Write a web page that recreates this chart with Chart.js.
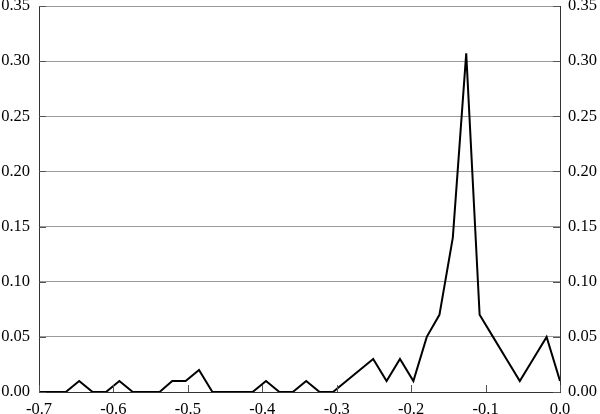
<!DOCTYPE html>
<html>
<head>
<meta charset="utf-8">
<script src="https://cdn.jsdelivr.net/npm/chart.js@4/dist/chart.umd.min.js"></script>
<style>
  html, body { margin: 0; padding: 0; background: #ffffff; }
  #wrap { width: 600px; height: 414px; position: relative; }
</style>
</head>
<body>
<div id="wrap"><canvas id="c" width="600" height="414"></canvas></div>
<script>
// ---- data ----
const xValues = [-0.700, -0.682, -0.664, -0.646, -0.628, -0.610, -0.592, -0.574, -0.556, -0.538,
                 -0.521, -0.503, -0.485, -0.467, -0.449, -0.431, -0.413, -0.395, -0.377, -0.359,
                 -0.341, -0.323, -0.305, -0.287, -0.269, -0.251, -0.233, -0.215, -0.197, -0.179,
                 -0.162, -0.144, -0.126, -0.108, -0.090, -0.072, -0.054, -0.036, -0.018, 0.000];
const shares  = [0.00, 0.00, 0.00, 0.01, 0.00, 0.00, 0.01, 0.00, 0.00, 0.00,
                 0.01, 0.01, 0.02, 0.00, 0.00, 0.00, 0.00, 0.01, 0.00, 0.00,
                 0.01, 0.00, 0.00, 0.01, 0.02, 0.03, 0.01, 0.03, 0.01, 0.05,
                 0.07, 0.14, 0.307, 0.07, 0.05, 0.03, 0.01, 0.03, 0.05, 0.01];
const xTicks = [-0.7, -0.6, -0.5, -0.4, -0.3, -0.2, -0.1, 0.0];
const xTickLabels = ["-0.7", "-0.6", "-0.5", "-0.4", "-0.3", "-0.2", "-0.1", "0.0"];
const yTicks = [0.00, 0.05, 0.10, 0.15, 0.20, 0.25, 0.30, 0.35];
const yTickLabels = ["0.00", "0.05", "0.10", "0.15", "0.20", "0.25", "0.30", "0.35"];

const FONT = { family: "'Liberation Serif', 'Times New Roman', serif", size: 16.5 };

const points = xValues.map((x, i) => ({ x: x, y: shares[i] }));

function setTicks(arr) {
  return function (scale) { scale.ticks = arr.map(v => ({ value: v })); };
}
function noPad(s) { s.paddingTop = 0; s.paddingBottom = 0; s.paddingLeft = 0; s.paddingRight = 0; }

const innerTicks = {
  id: 'innerTicks',
  afterDraw(chart) {
    const ctx = chart.ctx, a = chart.chartArea;
    const ys = chart.scales.y, xs = chart.scales.x;
    ctx.save();
    ctx.strokeStyle = '#555555';
    ctx.lineWidth = 1;
    ctx.beginPath();
    yTicks.forEach(v => {
      const py = Math.round(ys.getPixelForValue(v)) + 0.5;
      ctx.moveTo(a.left, py); ctx.lineTo(a.left + 7, py);
      ctx.moveTo(a.right - 7, py); ctx.lineTo(a.right, py);
    });
    xTicks.forEach(v => {
      const px = Math.round(xs.getPixelForValue(v)) + 0.5;
      ctx.moveTo(px, a.bottom); ctx.lineTo(px, a.bottom - 7);
    });
    ctx.stroke();
    ctx.restore();
  }
};

new Chart(document.getElementById('c'), {
  type: 'line',
  data: {
    datasets: [{
      data: points,
      borderColor: '#000000',
      borderWidth: 2,
      pointRadius: 0,
      tension: 0,
      fill: false
    }]
  },
  options: {
    responsive: false,
    animation: false,
    devicePixelRatio: 1,
    layout: { padding: { top: 6, left: 0, right: 0, bottom: 0 } },
    plugins: { legend: { display: false }, tooltip: { enabled: false } },
    scales: {
      x: {
        type: 'linear',
        min: -0.7, max: 0,
        afterBuildTicks: setTicks(xTicks),
        afterFit(s) { s.height = 22; noPad(s); },
        grid: { display: false, drawTicks: false },
        border: { display: true, color: '#333333', width: 1 },
        ticks: {
          font: FONT, color: '#000000', padding: 8, maxRotation: 0,
          callback: (v) => xTickLabels[xTicks.findIndex(t => Math.abs(t - v) < 1e-9)]
        }
      },
      y: {
        position: 'left',
        min: 0, max: 0.35,
        afterBuildTicks: setTicks(yTicks),
        afterFit(s) { s.width = 39; noPad(s); },
        grid: { display: true, color: '#9a9a9a', lineWidth: 1, drawTicks: false },
        border: { display: true, color: '#333333', width: 1 },
        ticks: {
          font: FONT, color: '#000000', padding: 9,
          callback: (v) => yTickLabels[yTicks.findIndex(t => Math.abs(t - v) < 1e-9)]
        }
      },
      y2: {
        position: 'right',
        min: 0, max: 0.35,
        afterBuildTicks: setTicks(yTicks),
        afterFit(s) { s.width = 40; noPad(s); },
        grid: { display: false, drawTicks: false },
        border: { display: true, color: '#333333', width: 1 },
        ticks: {
          font: FONT, color: '#000000', padding: 8,
          callback: (v) => yTickLabels[yTicks.findIndex(t => Math.abs(t - v) < 1e-9)]
        }
      }
    }
  },
  plugins: [innerTicks]
});
</script>
</body>
</html>
